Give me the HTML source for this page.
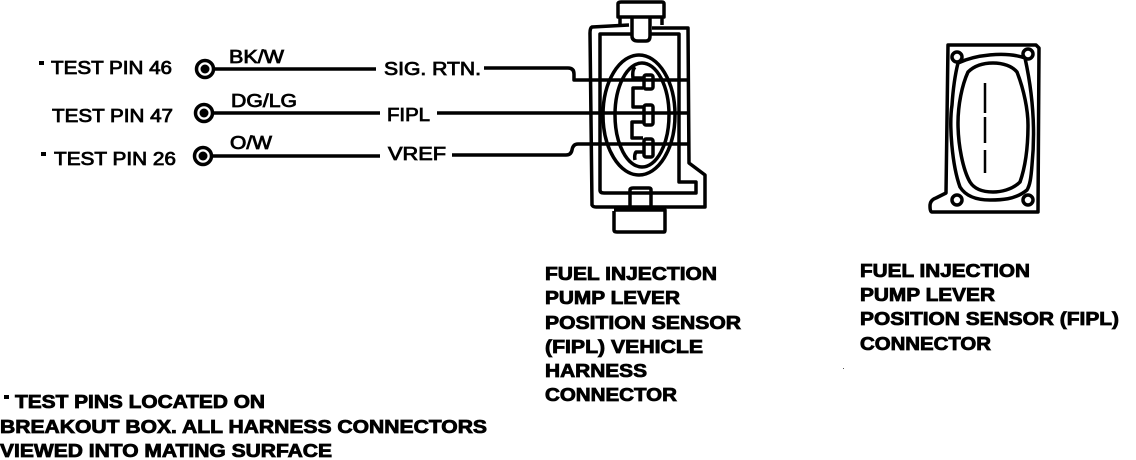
<!DOCTYPE html>
<html><head><meta charset="utf-8"><style>
html,body{margin:0;padding:0;background:#fff}
svg{display:block}
text{font-family:"Liberation Sans",sans-serif;font-size:18px;fill:#000}
.b{font-weight:bold;stroke:#000;stroke-width:.8px}
.r{stroke:#000;stroke-width:.8px}
.l{fill:none;stroke:#000;stroke-width:3.5px;stroke-linejoin:round}
.t{fill:none;stroke:#000;stroke-width:3.5px;stroke-linejoin:round}
</style></head><body>
<svg width="1136" height="460" viewBox="0 0 1136 460" xmlns="http://www.w3.org/2000/svg">
<!-- left labels -->
<rect x="39" y="61" width="5" height="4" fill="#000"/>
<rect x="41" y="152" width="5" height="4" fill="#000"/>
<rect x="4" y="395" width="5" height="4" fill="#000"/>
<g class="r">
<text x="51" y="74" textLength="121" lengthAdjust="spacingAndGlyphs">TEST PIN 46</text>
<text x="52" y="122" textLength="121" lengthAdjust="spacingAndGlyphs">TEST PIN 47</text>
<text x="54" y="165" textLength="122" lengthAdjust="spacingAndGlyphs">TEST PIN 26</text>
<text x="229" y="63" textLength="55" lengthAdjust="spacingAndGlyphs">BK/W</text>
<text x="231" y="107" textLength="66" lengthAdjust="spacingAndGlyphs">DG/LG</text>
<text x="230" y="149" textLength="42" lengthAdjust="spacingAndGlyphs">O/W</text>
<text x="384" y="75" textLength="97" lengthAdjust="spacingAndGlyphs">SIG. RTN.</text>
<text x="387" y="121" textLength="43" lengthAdjust="spacingAndGlyphs">FIPL</text>
<text x="388" y="160" textLength="58" lengthAdjust="spacingAndGlyphs">VREF</text>
</g>
<!-- pins -->
<g fill="none" stroke="#000">
<circle cx="205" cy="69" r="8.5" stroke-width="3.5"/><circle cx="205" cy="69" r="4.5" fill="#000" stroke="none"/>
<circle cx="204" cy="113" r="8.5" stroke-width="3.5"/><circle cx="204" cy="113" r="4.5" fill="#000" stroke="none"/>
<circle cx="203" cy="156" r="8.5" stroke-width="3.5"/><circle cx="203" cy="156" r="4.5" fill="#000" stroke="none"/>
</g>
<!-- wires -->
<g class="l">
<path d="M213 69H376"/>
<path d="M212 113H380"/>
<path d="M211 156H380"/>
<path d="M484 68H568Q574 68 574 74V80H688"/>
<path d="M437 113H690"/>
<path d="M452 155H566Q571 155 572 150Q573 144 578 144H688"/>
</g>
<!-- harness connector -->
<g class="l">
<path d="M629 25L592 27Q590 28 590 33L592 205Q593 207 596 207H705V175L689 163L688 28H652"/>
<path d="M632 34H600V190Q600 193 604 193H696V182H679V34H650"/>
<path d="M620 25V17H618V4Q618 2 621 2H662Q664 2 664 4V17H662V25M618 17H664"/>
<path d="M632 18V36Q632 41 638 41H646Q650 41 650 36V18"/>
<path d="M630 208V190Q630 188 633 188H649Q651 188 651 190V210"/>
<path d="M614 211V230Q614 232 617 232H664Q665 232 665 230V210H614"/>
<ellipse cx="639" cy="115" rx="36" ry="60"/>
<ellipse cx="642" cy="115" rx="27" ry="52"/>
<path d="M635 67Q632 70 633 78H643M643 88H633V107H643M643 122H632V138H643M643 152H636Q634 155 635 160"/>
<rect x="644" y="75" width="9" height="14" rx="2"/>
<rect x="644" y="105" width="9" height="20" rx="2"/>
<rect x="644" y="139" width="9" height="18" rx="2"/>
</g>
<!-- right connector -->
<g class="t">
<path d="M948 45H1036L1039 48L1038 212H932Q930 212 930 206Q930 200 936 198L946 193Z"/>
<path d="M958 63C975 55 1005 51 1025 58C1032 90 1036 125 1032 165C1031 178 1030 185 1027 190C1015 200 1000 200 990 200C975 200 965 195 960 187C952 165 949 125 952 105C953 90 955 75 958 63Z"/>
<path d="M968 72C975 65 985 63 993 63C1003 63 1012 66 1017 72C1024 90 1028 110 1028 125C1028 145 1026 165 1020 182C1012 190 1000 192 993 192C985 192 975 190 970 182C963 170 958 145 958 123C958 105 962 85 968 72Z"/>
<circle cx="957" cy="57" r="5"/>
<circle cx="1028" cy="54" r="5"/>
<circle cx="957" cy="200" r="5"/>
<circle cx="1028" cy="200" r="5"/>
<path d="M985 83V113M985 117V143M985 150V173" stroke-width="2.5"/>
</g>
<!-- captions -->
<g class="b">
<text x="545" y="280" textLength="172" lengthAdjust="spacingAndGlyphs">FUEL INJECTION</text>
<text x="545" y="304" textLength="135" lengthAdjust="spacingAndGlyphs">PUMP LEVER</text>
<text x="545" y="329" textLength="196" lengthAdjust="spacingAndGlyphs">POSITION SENSOR</text>
<text x="545" y="353" textLength="158" lengthAdjust="spacingAndGlyphs">(FIPL) VEHICLE</text>
<text x="545" y="377" textLength="102" lengthAdjust="spacingAndGlyphs">HARNESS</text>
<text x="545" y="401" textLength="132" lengthAdjust="spacingAndGlyphs">CONNECTOR</text>
<text x="860" y="277" textLength="170" lengthAdjust="spacingAndGlyphs">FUEL INJECTION</text>
<text x="860" y="301" textLength="135" lengthAdjust="spacingAndGlyphs">PUMP LEVER</text>
<text x="860" y="325" textLength="259" lengthAdjust="spacingAndGlyphs">POSITION SENSOR (FIPL)</text>
<text x="860" y="350" textLength="131" lengthAdjust="spacingAndGlyphs">CONNECTOR</text>
<text x="15" y="408" textLength="250" lengthAdjust="spacingAndGlyphs">TEST PINS LOCATED ON</text>
<text x="0" y="433" textLength="487" lengthAdjust="spacingAndGlyphs">BREAKOUT BOX. ALL HARNESS CONNECTORS</text>
<text x="0" y="457" textLength="332" lengthAdjust="spacingAndGlyphs">VIEWED INTO MATING SURFACE</text>
</g>
<rect x="843" y="368" width="1" height="1" fill="#555"/>
</svg>
</body></html>
